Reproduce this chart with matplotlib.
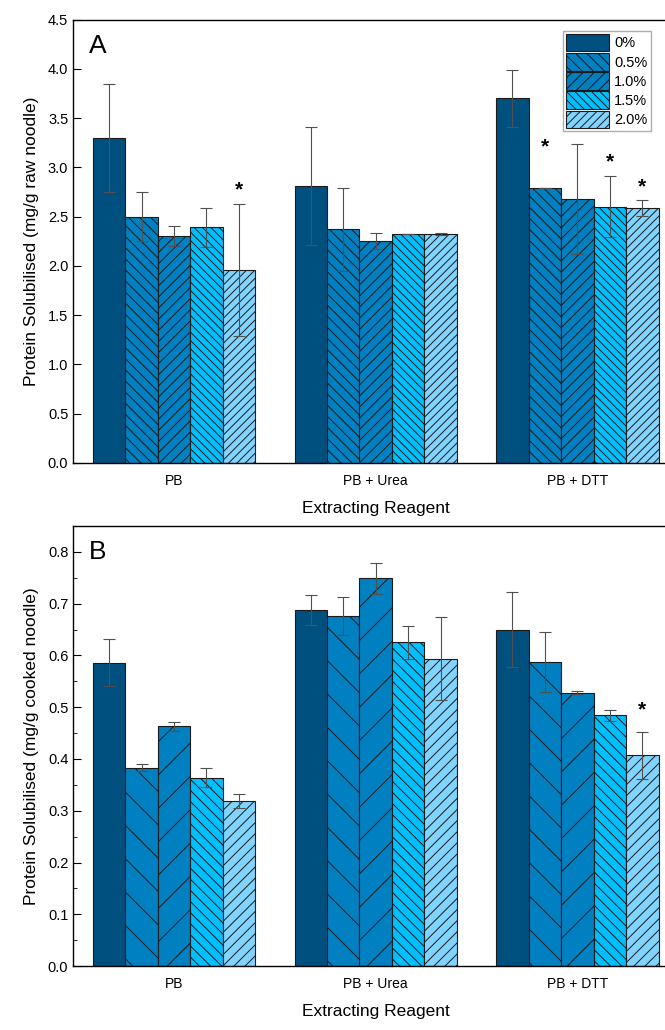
import numpy as np
import matplotlib.pyplot as plt
from matplotlib.ticker import MultipleLocator

plt.rcParams['font.family'] = ['Liberation Sans', 'DejaVu Sans']
plt.rcParams['hatch.linewidth'] = 0.7

reagents = ['PB', 'PB + Urea', 'PB + DTT']
levels = ['0%', '0.5%', '1.0%', '1.5%', '2.0%']
colors = ['#00507f', '#0080c0', '#0080c0', '#00bfff', '#80d4ff']
# the two panels were exported with different hatch densities
hatches_raw = ['', '\\\\\\', '///', '\\\\\\\\', '////']
hatches_cooked = ['', '\\', '/', '\\\\\\', '///']

# panel A: raw noodle, rows = level, cols = reagent
raw_mean = [
    [3.30, 2.81, 3.70],
    [2.50, 2.37, 2.79],
    [2.30, 2.25, 2.68],
    [2.39, 2.32, 2.60],
    [1.96, 2.32, 2.59],
]
raw_err = [
    [0.55, 0.60, 0.29],
    [0.25, 0.42, 0.00],
    [0.10, 0.08, 0.56],
    [0.20, 0.00, 0.31],
    [0.67, 0.01, 0.08],
]
# significance stars: (level index, reagent index, height)
raw_stars = [(4, 0, 2.77), (1, 2, 3.21), (3, 2, 3.06), (4, 2, 2.80)]

# panel B: cooked noodle
cooked_mean = [
    [0.586, 0.687, 0.650],
    [0.383, 0.676, 0.588],
    [0.463, 0.749, 0.528],
    [0.364, 0.625, 0.484],
    [0.319, 0.594, 0.407],
]
cooked_err = [
    [0.046, 0.029, 0.073],
    [0.007, 0.037, 0.058],
    [0.009, 0.030, 0.003],
    [0.019, 0.031, 0.011],
    [0.014, 0.080, 0.045],
]
cooked_stars = [(4, 2, 0.495)]

fig = plt.figure(figsize=(6.65, 10.30), dpi=100)
axA = fig.add_axes([0.110, 0.5505, 0.910, 0.4305])
axB = fig.add_axes([0.110, 0.0621, 0.910, 0.4272])

x = np.arange(len(reagents))
w = 0.161


def draw_panel(ax, mean, err, stars, hatches, ylabel, ymax, major, minor, letter, legend):
    for i in range(len(levels)):
        pos = x + (i - 2) * w
        ax.bar(pos, mean[i], w, color=colors[i], hatch=hatches[i],
               edgecolor='#1a1a1a', linewidth=0.8, label=levels[i], zorder=2)
        ax.errorbar(pos, mean[i], yerr=err[i], fmt='none', ecolor='#505050',
                    elinewidth=0.8, capsize=4, capthick=0.8, zorder=3)
    for i, j, h in stars:
        ax.text(x[j] + (i - 2) * w, h, '*', ha='center', va='center',
                fontsize=15, fontweight='bold', zorder=4)
    ax.set_xlim(-0.5, 2.5)
    ax.set_ylim(0, ymax)
    ax.yaxis.set_major_locator(MultipleLocator(major))
    if minor:
        ax.yaxis.set_minor_locator(MultipleLocator(minor))
    ax.set_xticks(x)
    ax.set_xticklabels(reagents)
    ax.tick_params(axis='x', length=0, labelsize=10, pad=8)
    ax.tick_params(axis='y', which='major', direction='in', length=6, labelsize=10.5)
    ax.tick_params(axis='y', which='minor', direction='in', length=3)
    ax.yaxis.set_major_formatter(plt.FormatStrFormatter('%.1f'))
    ax.spines['right'].set_visible(False)
    for s in ['left', 'bottom', 'top']:
        ax.spines[s].set_linewidth(1.0)
    ax.set_ylabel(ylabel, fontsize=12.5, labelpad=6)
    ax.set_xlabel('Extracting Reagent', fontsize=12.5, labelpad=9)
    ax.text(0.04, 0.94, letter, transform=ax.transAxes, fontsize=19,
            ha='center', va='center')
    if legend:
        ax.legend(loc='upper left', bbox_to_anchor=(0.81, 0.975), fontsize=10.5,
                  frameon=True, fancybox=False, edgecolor='#999999',
                  handlelength=2.9, handleheight=1.5, handletextpad=0.4,
                  labelspacing=0.1, borderpad=0.2, borderaxespad=0)


draw_panel(axA, raw_mean, raw_err, raw_stars, hatches_raw,
           'Protein Solubilised (mg/g raw noodle)', 4.5, 0.5, None, 'A', True)
draw_panel(axB, cooked_mean, cooked_err, cooked_stars, hatches_cooked,
           'Protein Solubilised (mg/g cooked noodle)', 0.85, 0.1, 0.05, 'B', False)

fig.savefig('out.png', dpi=100)
